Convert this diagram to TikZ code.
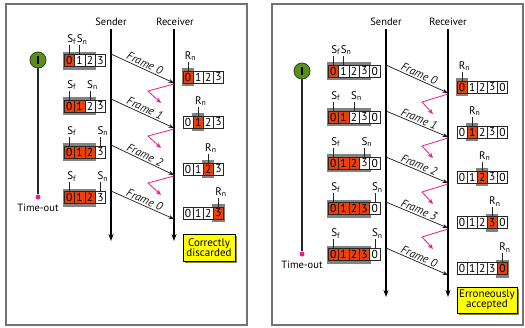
\documentclass[tikz,border=0pt]{standalone}
\usepackage{fontspec}
\setmainfont{PT Sans}
\usetikzlibrary{arrows.meta,shadows}
\definecolor{sent}{RGB}{234,64,12}
\definecolor{shadegray}{RGB}{130,130,130}
\definecolor{panelgray}{RGB}{115,115,115}
\definecolor{timergreen}{RGB}{92,142,30}
\definecolor{timerdark}{RGB}{40,70,10}
\definecolor{zap}{RGB}{232,30,140}
\definecolor{noteyellow}{RGB}{255,255,0}
\def\cw{10.4}
% #1 name, #2 left x, #3 centre y, #4 digits, #5/#6 filled from/to, #7/#8 shaded from/to
\newcommand\drawwin[8]{%
  \fill[shadegray] ({#2+#7*\cw-1},{#3-9}) rectangle ({#2+(#8+1)*\cw+1},{#3+9});
  \foreach \d [count=\i from 0] in {#4}{%
    \ifnum\i<#5\relax\def\cf{white}\else\ifnum\i>#6\relax\def\cf{white}\else\def\cf{sent}\fi\fi
    \node[cell,fill=\cf] (#1-\i) at ({#2+(\i+0.5)*\cw},#3) {\d};
  }%
}
% #1 cell node, #2 text, #3 label name
\newcommand\marker[3]{%
  \draw[tickline] (#1.north) -- ++(0,-9) coordinate (#3-t);
  \node[marklbl] (#3) at (#3-t) {#2};
}
\begin{document}
\begin{tikzpicture}[x=1pt,y=-1pt,
  font=\fontsize{10.5}{12}\selectfont,
  cell/.style={draw=black!85, line width=0.6pt, minimum width=\cw pt, minimum height=12pt,
    inner sep=0pt, font=\fontsize{11.5}{12}\selectfont},
  tickline/.style={line width=0.6pt, black!85},
  marklbl/.style={anchor=south, xshift=2.5pt, inner sep=0.6pt, font=\fontsize{11}{12}\selectfont},
  panel/.style={draw=panelgray, line width=1.1pt},
  timeline/.style={line width=1.3pt, -{Stealth[length=7pt,width=5pt]}},
  headlbl/.style={inner sep=1pt},
  framearrow/.style={line width=0.7pt, black!90, -{Stealth[length=5.5pt,width=4pt]}},
  flabel/.style={sloped, above, midway, inner sep=1.2pt, font=\fontsize{11.5}{12}\selectfont\itshape},
  zapline/.style={draw=zap, line width=0.8pt, -{Stealth[length=5.5pt,width=4.5pt]}},
  timer/.style={circle, draw=timerdark, line width=0.8pt, fill=timergreen, minimum size=16pt, inner sep=0pt},
  pinkdot/.style={circle, fill=zap, minimum size=5pt, inner sep=0pt},
  notebox/.style={draw=black, line width=0.7pt, fill=noteyellow, align=center, inner sep=1pt,
    font=\fontsize{11}{12}\selectfont,
    drop shadow={shadow xshift=2pt, shadow yshift=-2pt, fill=shadegray, opacity=1}}
]
\useasboundingbox (0,0) rectangle (525,327);
\fill[white] (0,0) rectangle (525,327);

% ================= LEFT PANEL =================
\draw[panel] (6,4) rectangle (247,325);
\node[headlbl] (L-snd) at (111,22) {Sender};
\node[headlbl] (L-rcv) at (175,22) {Receiver};
\coordinate (L-snd-end) at (111,241);
\coordinate (L-rcv-end) at (174,241);
\draw[timeline] (111,29) coordinate (L-snd-top) -- (L-snd-end);
\draw[timeline] (174,29) coordinate (L-rcv-top) -- (L-rcv-end);

% timer
\node[timer] (L-timer) at (38,60) {};
\draw[line width=1.4pt, black] ([yshift=4pt]L-timer.center) -- ([yshift=-4pt]L-timer.center);
\node[pinkdot] (L-dot) at (38,197) {};
\draw[line width=1.2pt, black!85] (L-timer.south) -- (L-dot.north);
\node[inner sep=1pt] (L-to) at (38,207.5) {Time-out};

% sender windows
\def\cw{10.4}
\drawwin{L-sw1}{64}{60.5}{0,1,2,3}{0}{0}{0}{2}
\marker{L-sw1-0}{S\textsubscript{f}}{L-sf1}\marker{L-sw1-1}{S\textsubscript{n}}{L-sn1}
\drawwin{L-sw2}{64}{106}{0,1,2,3}{0}{1}{0}{2}
\marker{L-sw2-0}{S\textsubscript{f}}{L-sf2}\marker{L-sw2-2}{S\textsubscript{n}}{L-sn2}
\drawwin{L-sw3}{64}{152}{0,1,2,3}{0}{2}{0}{2}
\marker{L-sw3-0}{S\textsubscript{f}}{L-sf3}\marker{L-sw3-3}{S\textsubscript{n}}{L-sn3}
\drawwin{L-sw4}{64}{197.5}{0,1,2,3}{0}{2}{0}{2}
\marker{L-sw4-0}{S\textsubscript{f}}{L-sf4}\marker{L-sw4-3}{S\textsubscript{n}}{L-sn4}

% receiver windows
\def\cw{10.15}
\drawwin{L-rw1}{183}{77}{0,1,2,3}{0}{0}{0}{0}
\marker{L-rw1-0}{R\textsubscript{n}}{L-rn1}
\drawwin{L-rw2}{183}{122}{0,1,2,3}{1}{1}{1}{1}
\marker{L-rw2-1}{R\textsubscript{n}}{L-rn2}
\drawwin{L-rw3}{183}{169}{0,1,2,3}{2}{2}{2}{2}
\marker{L-rw3-2}{R\textsubscript{n}}{L-rn3}
\drawwin{L-rw4}{183}{213}{0,1,2,3}{3}{3}{3}{3}
\marker{L-rw4-3}{R\textsubscript{n}}{L-rn4}

% frames
\foreach \k/\s/\e/\t in {1/54/83/0, 2/99/128/1, 3/145/175/2, 4/191/219/0}{
  \coordinate (L-fs\k) at (111,\s);
  \coordinate (L-fe\k) at (174,\e);
  \draw[framearrow] (L-fs\k) -- node[flabel] (L-fl\k) {Frame \t} (L-fe\k);
}
% lost acknowledgments
\foreach \k/\e in {1/83, 2/128, 3/175}{
  \coordinate (L-za\k) at (174,{\e+1});
  \coordinate (L-zb\k) at (148,{\e+8});
  \coordinate (L-zc\k) at (161,{\e+20});
  \draw[zapline] (L-za\k) -- (L-zb\k) -- (L-zc\k);
}
\node[notebox, minimum width=52pt, minimum height=27pt] (L-note) at (209,247.5) {Correctly\\[-2pt]discarded};

% ================= RIGHT PANEL =================
\draw[panel] (272,4) rectangle (523,325);
\node[headlbl] (R-snd) at (386,22) {Sender};
\node[headlbl] (R-rcv) at (448,22) {Receiver};
\coordinate (R-snd-end) at (386,297);
\coordinate (R-rcv-end) at (448,297);
\draw[timeline] (386,29) coordinate (R-snd-top) -- (R-snd-end);
\draw[timeline] (448,29) coordinate (R-rcv-top) -- (R-rcv-end);

\node[timer] (R-timer) at (302,71) {};
\draw[line width=1.4pt, black] ([yshift=4pt]R-timer.center) -- ([yshift=-4pt]R-timer.center);
\node[pinkdot] (R-dot) at (302,254) {};
\draw[line width=1.2pt, black!85] (R-timer.south) -- (R-dot.north);
\node[inner sep=1pt] (R-to) at (302,264.5) {Time-out};

\def\cw{10.4}
\drawwin{R-sw1}{328}{71}{0,1,2,3,0}{0}{0}{0}{3}
\marker{R-sw1-0}{S\textsubscript{f}}{R-sf1}\marker{R-sw1-1}{S\textsubscript{n}}{R-sn1}
\drawwin{R-sw2}{328}{117}{0,1,2,3,0}{0}{1}{0}{3}
\marker{R-sw2-0}{S\textsubscript{f}}{R-sf2}\marker{R-sw2-2}{S\textsubscript{n}}{R-sn2}
\drawwin{R-sw3}{328}{163}{0,1,2,3,0}{0}{2}{0}{3}
\marker{R-sw3-0}{S\textsubscript{f}}{R-sf3}\marker{R-sw3-3}{S\textsubscript{n}}{R-sn3}
\drawwin{R-sw4}{328}{208.5}{0,1,2,3,0}{0}{3}{0}{3}
\marker{R-sw4-0}{S\textsubscript{f}}{R-sf4}\marker{R-sw4-4}{S\textsubscript{n}}{R-sn4}
\drawwin{R-sw5}{328}{254.5}{0,1,2,3,0}{0}{3}{0}{3}
\marker{R-sw5-0}{S\textsubscript{f}}{R-sf5}\marker{R-sw5-4}{S\textsubscript{n}}{R-sn5}

\def\cw{10.1}
\drawwin{R-rw1}{457}{87}{0,1,2,3,0}{0}{0}{0}{0}
\marker{R-rw1-0}{R\textsubscript{n}}{R-rn1}
\drawwin{R-rw2}{457}{132}{0,1,2,3,0}{1}{1}{1}{1}
\marker{R-rw2-1}{R\textsubscript{n}}{R-rn2}
\drawwin{R-rw3}{457}{177}{0,1,2,3,0}{2}{2}{2}{2}
\marker{R-rw3-2}{R\textsubscript{n}}{R-rn3}
\drawwin{R-rw4}{457}{222.5}{0,1,2,3,0}{3}{3}{3}{3}
\marker{R-rw4-3}{R\textsubscript{n}}{R-rn4}
\drawwin{R-rw5}{457}{268.5}{0,1,2,3,0}{4}{4}{4}{4}
\marker{R-rw5-4}{R\textsubscript{n}}{R-rn5}

\foreach \k/\s/\e/\t in {1/65/93/0, 2/111/137/1, 3/157/183/2, 4/202/228/3, 5/248/275/0}{
  \coordinate (R-fs\k) at (386,\s);
  \coordinate (R-fe\k) at (448,\e);
  \draw[framearrow] (R-fs\k) -- node[flabel] (R-fl\k) {Frame \t} (R-fe\k);
}
\foreach \k/\e in {1/93, 2/137, 3/183, 4/228}{
  \coordinate (R-za\k) at (448,{\e+1});
  \coordinate (R-zb\k) at (422,{\e+9});
  \coordinate (R-zc\k) at (433,{\e+21});
  \draw[zapline] (R-za\k) -- (R-zb\k) -- (R-zc\k);
}
\node[notebox, minimum width=60pt, minimum height=26pt] (R-note) at (487,300) {Erroneously\\[-2pt]accepted};
\end{tikzpicture}
\end{document}
